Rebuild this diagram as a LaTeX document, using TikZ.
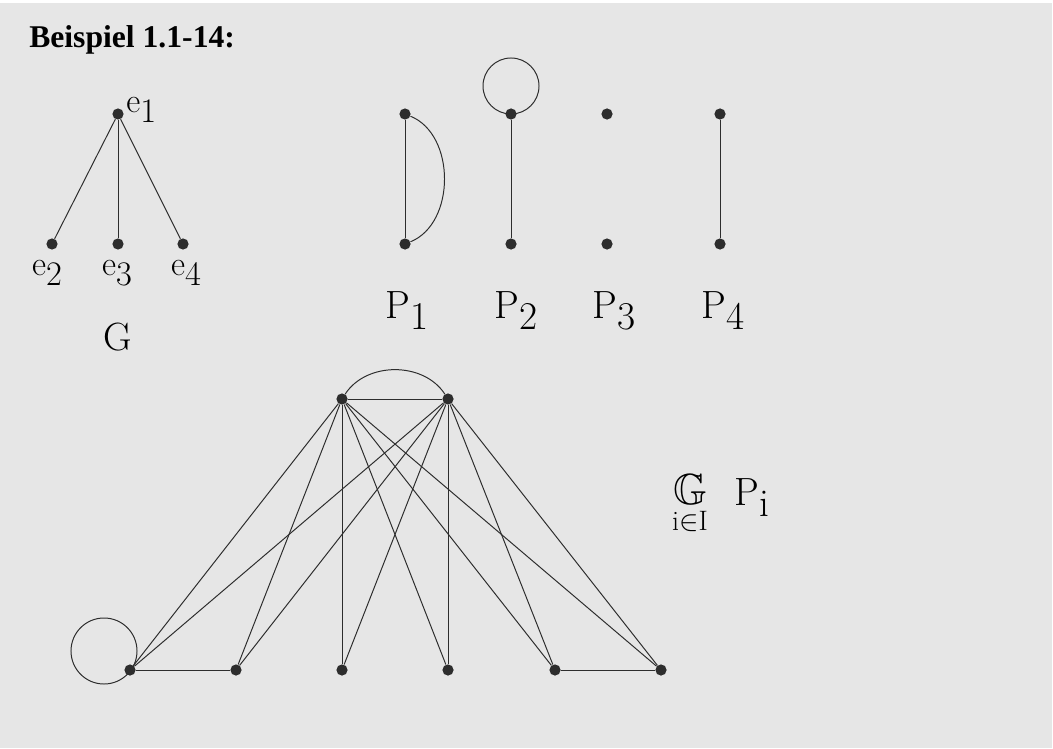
\documentclass[tikz,border=0pt]{standalone}
\usepackage{fontspec}
\usepackage{amssymb}
\newfontfamily\titlefont{Liberation Serif}
\definecolor{beispielGray}{RGB}{230,230,230}
\definecolor{beispielInk}{RGB}{45,45,45}
\newcommand{\lowsub}[1]{\raisebox{-0.7ex}{#1}}

\begin{document}
\begin{tikzpicture}[
  x=0.025cm, y=-0.025cm,
  vertex/.style={circle, fill=beispielInk, inner sep=0pt, minimum size=0.28cm},
  edge/.style={beispielInk, line width=0.7pt},
  smalllabel/.style={font=\fontsize{24.5}{26}\selectfont, inner sep=0pt, anchor=base},
  biglabel/.style={font=\fontsize{28}{30}\selectfont, inner sep=0pt, anchor=base}
]
\useasboundingbox (0,0) rectangle (1053,749);
\fill[white] (0,0) rectangle (1053,749);
\fill[beispielGray] (0,3) rectangle (1052,748);
\node[anchor=base west, inner sep=0pt, font=\titlefont\bfseries\fontsize{22.5}{25}\selectfont] (title) at (29,48) {Beispiel 1.1-14:};

\node[vertex] (e1) at (118,114) {};
\node[vertex] (e2) at (52,244) {};
\node[vertex] (e3) at (118,244) {};
\node[vertex] (e4) at (183,244) {};
\node[smalllabel, anchor=base west] (e1lbl) at (126,112) {e\lowsub{1}};
\node[smalllabel] (e2lbl) at (47,275) {e\lowsub{2}};
\node[smalllabel] (e3lbl) at (117,275) {e\lowsub{3}};
\node[smalllabel] (e4lbl) at (186,275) {e\lowsub{4}};
\node[biglabel] (glbl) at (118,350) {G};
\draw[edge] (e1) -- (e2);
\draw[edge] (e1) -- (e3);
\draw[edge] (e1) -- (e4);

\node[vertex] (p1t) at (405,114) {};
\node[vertex] (p1b) at (405,244) {};
\node[vertex] (p2t) at (511,114) {};
\node[vertex] (p2b) at (511,244) {};
\node[vertex] (p3t) at (607,114) {};
\node[vertex] (p3b) at (607,244) {};
\node[vertex] (p4t) at (720,114) {};
\node[vertex] (p4b) at (720,244) {};
\coordinate (p2loop) at (511,86);
\node[biglabel] (p1lbl) at (407,318) {P\lowsub{1}};
\node[biglabel] (p2lbl) at (516,318) {P\lowsub{2}};
\node[biglabel] (p3lbl) at (614,318) {P\lowsub{3}};
\node[biglabel] (p4lbl) at (723,318) {P\lowsub{4}};
\draw[edge] (p1t) -- (p1b);
\draw[edge] (p1t) to[bend left=68] (p1b);
\draw[edge] (p2t) -- (p2b);
\draw[edge] (p2loop) circle (0.7cm);
\draw[edge] (p4t) -- (p4b);

\node[vertex] (ta) at (342,399) {};
\node[vertex] (tb) at (448,399) {};
\node[vertex] (b1) at (130,670) {};
\node[vertex] (b2) at (236,670) {};
\node[vertex] (b3) at (342,670) {};
\node[vertex] (b4) at (448,670) {};
\node[vertex] (b5) at (555,670) {};
\node[vertex] (b6) at (661,670) {};
\coordinate (b1loop) at (104,651);
\draw[edge] (ta) -- (tb);
\draw[edge] (ta) to[bend left=57] (tb);
\draw[edge] (b1loop) circle (0.825cm);
\draw[edge] (b1) -- (b2);
\draw[edge] (b5) -- (b6);
\draw[edge] (ta) -- (b1);
\draw[edge] (ta) -- (b2);
\draw[edge] (ta) -- (b3);
\draw[edge] (ta) -- (b4);
\draw[edge] (ta) -- (b5);
\draw[edge] (ta) -- (b6);
\draw[edge] (tb) -- (b1);
\draw[edge] (tb) -- (b2);
\draw[edge] (tb) -- (b3);
\draw[edge] (tb) -- (b4);
\draw[edge] (tb) -- (b5);
\draw[edge] (tb) -- (b6);

\node[biglabel, font=\fontsize{31}{32}\selectfont] (uniong) at (690,504) {$\mathbb{G}$};
\node[smalllabel, font=\fontsize{20}{22}\selectfont] (unionidx) at (690,530) {i$\in$I};
\node[biglabel, anchor=base west] (unionp) at (734,505) {P\lowsub{i}};
\end{tikzpicture}
\end{document}
